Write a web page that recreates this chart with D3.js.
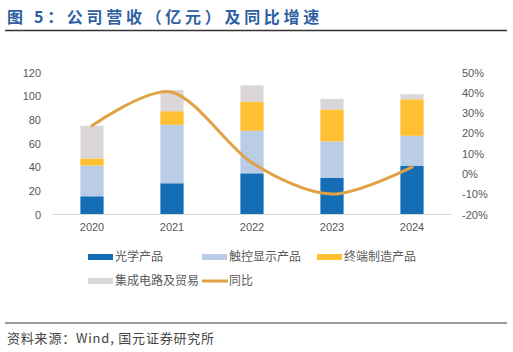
<!DOCTYPE html>
<html>
<head>
<meta charset="utf-8">
<script src="https://cdn.jsdelivr.net/npm/d3@7"></script>
<style>
  body { margin: 0; background: #fff; }
  svg { display: block; font-family: "Noto Sans CJK SC", "Liberation Sans", sans-serif; }
</style>
</head>
<body>
<div id="chart"></div>
<script>
// data
var years = ["2020", "2021", "2022", "2023", "2024"];
var seriesNames = ["光学产品", "触控显示产品", "终端制造产品", "集成电路及贸易"];
var optical = [15.4, 26.4, 34.8, 30.9, 41.3];
var touch = [25.9, 49.4, 35.9, 30.8, 25.2];
var terminal = [6.1, 11.5, 24.5, 27.0, 30.9];
var ic = [27.6, 18.0, 14.0, 9.0, 4.2];
var yoy = [23.7, 40.3, 5.5, -9.9, 3.4];
var leftTicks = [0, 20, 40, 60, 80, 100, 120];
var rightTicks = [-20, -10, 0, 10, 20, 30, 40, 50];

var colors = ["#156db5", "#b9cde6", "#ffc032", "#dbd7d8"];
var lineColor = "#e0a245";

var W = 513, H = 352;
var svg = d3.select("#chart").append("svg")
    .attr("width", W).attr("height", H);

// title
svg.append("text")
    .attr("x", 7).attr("y", 23)
    .attr("font-size", "16px")
    .attr("font-weight", "bold")
    .attr("fill", "#2f5fa3")
    .attr("letter-spacing", "3.7px")
    .text("图 5：公司营收（亿元）及同比增速");

svg.append("line")
    .attr("x1", 5).attr("x2", 507).attr("y1", 30.5).attr("y2", 30.5)
    .attr("stroke", "#333").attr("stroke-width", 1.5);

var x = d3.scaleBand().domain(years).range([52, 452]).paddingInner(0.71).paddingOuter(0.355);
var yL = d3.scaleLinear().domain([0, 120]).range([214.5, 72.5]);
var yR = d3.scaleLinear().domain([-20, 50]).range([214.5, 72.5]);

// stacked bars
var rows = years.map(function (yr, i) {
    return { year: yr, a: optical[i], b: touch[i], c: terminal[i], d: ic[i] };
});
var stack = d3.stack().keys(["a", "b", "c", "d"])(rows);

svg.append("g").selectAll("g")
    .data(stack)
    .enter().append("g")
    .attr("fill", function (d, i) { return colors[i]; })
    .selectAll("rect")
    .data(function (d) { return d; })
    .enter().append("rect")
    .attr("x", function (d) { return x(d.data.year); })
    .attr("width", x.bandwidth())
    .attr("y", function (d) { return yL(d[1]); })
    .attr("height", function (d) { return yL(d[0]) - yL(d[1]); });

// x axis line
svg.append("line")
    .attr("x1", 52).attr("x2", 452).attr("y1", 214.5).attr("y2", 214.5)
    .attr("stroke", "#d9d9d9").attr("stroke-width", 1);

var axisTxt = "#595959";

var leftAxis = svg.append("g")
    .attr("transform", "translate(41,0)")
    .call(d3.axisLeft(yL).tickValues(leftTicks).tickSize(0).tickPadding(0));
leftAxis.select(".domain").remove();
leftAxis.selectAll("text").attr("font-size", "11px").attr("fill", axisTxt)
    .attr("font-family", "Liberation Sans, sans-serif");

var rightAxis = svg.append("g")
    .attr("transform", "translate(462,0)")
    .call(d3.axisRight(yR).tickValues(rightTicks).tickSize(0).tickPadding(0)
        .tickFormat(function (d) { return d + "%"; }));
rightAxis.select(".domain").remove();
rightAxis.selectAll("text").attr("font-size", "11px").attr("fill", axisTxt)
    .attr("font-family", "Liberation Sans, sans-serif");

var bottomAxis = svg.append("g")
    .attr("transform", "translate(0,223)")
    .call(d3.axisBottom(x).tickSize(0).tickPadding(0));
bottomAxis.select(".domain").remove();
bottomAxis.selectAll("text").attr("font-size", "11px").attr("fill", axisTxt)
    .attr("font-family", "Liberation Sans, sans-serif");

// yoy line
var line = d3.line()
    .x(function (d, i) { return x(years[i]) + x.bandwidth() / 2; })
    .y(function (d) { return yR(d); })
    .curve(d3.curveCardinal.tension(0.1));

svg.append("path")
    .datum(yoy)
    .attr("d", line)
    .attr("fill", "none")
    .attr("stroke", lineColor)
    .attr("stroke-width", 3)
    .attr("stroke-linecap", "round");

// legend
var legendItems = [
    { name: seriesNames[0], color: colors[0], type: "rect", x: 88, y: 257 },
    { name: seriesNames[1], color: colors[1], type: "rect", x: 202, y: 257 },
    { name: seriesNames[2], color: colors[2], type: "rect", x: 317, y: 257 },
    { name: seriesNames[3], color: colors[3], type: "rect", x: 88, y: 281 },
    { name: "同比", color: lineColor, type: "line", x: 202, y: 281 }
];
var lg = svg.append("g").selectAll("g").data(legendItems).enter().append("g")
    .attr("transform", function (d) { return "translate(" + d.x + "," + d.y + ")"; });
lg.each(function (d) {
    var g = d3.select(this);
    if (d.type === "rect") {
        g.append("rect").attr("x", 0).attr("y", -3).attr("width", 25).attr("height", 6).attr("fill", d.color);
    } else {
        g.append("line").attr("x1", 0).attr("x2", 26).attr("y1", 0).attr("y2", 0)
            .attr("stroke", d.color).attr("stroke-width", 3);
    }
    g.append("text").attr("x", 27).attr("y", 0).attr("dy", "0.36em")
        .attr("font-size", "12px").attr("fill", "#595959").text(d.name);
});

// footer
svg.append("line")
    .attr("x1", 5).attr("x2", 507).attr("y1", 323).attr("y2", 323)
    .attr("stroke", "#777").attr("stroke-width", 1.5);

svg.append("text")
    .attr("x", 7).attr("y", 343)
    .attr("font-size", "13px")
    .attr("letter-spacing", "0.8px")
    .attr("fill", "#444")
    .text("资料来源：Wind, 国元证券研究所");
</script>
</body>
</html>
